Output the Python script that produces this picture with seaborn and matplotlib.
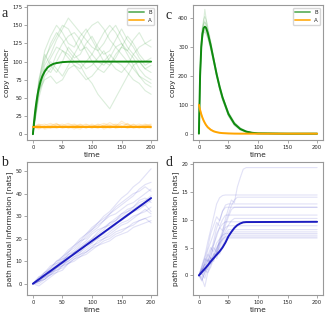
import numpy as np
import pandas as pd
import matplotlib
matplotlib.use("Agg")
import matplotlib.pyplot as plt
from matplotlib.lines import Line2D
import seaborn as sns

# ---------------- data ----------------
# panel a: copy numbers (constant input)
t_a = [0, 10, 20, 30, 40, 50, 60, 70, 80, 90, 100, 110, 120, 130, 140, 150, 160, 170, 180, 190, 200]
a_B_runs = [
    [0, 70, 105, 120, 135, 150, 145, 130, 115, 120, 110, 100, 95, 105, 120, 110, 100, 90, 80, 75, 70],
    [0, 60, 95, 110, 130, 145, 160, 150, 140, 130, 120, 115, 125, 140, 150, 135, 120, 110, 100, 90, 85],
    [0, 65, 90, 85, 100, 115, 110, 100, 95, 80, 70, 55, 45, 35, 50, 65, 80, 95, 100, 90, 95],
    [0, 55, 85, 100, 90, 80, 95, 110, 125, 140, 150, 155, 145, 130, 120, 125, 110, 95, 80, 70, 65],
    [0, 75, 110, 95, 85, 100, 120, 110, 100, 90, 95, 105, 115, 100, 90, 85, 95, 110, 120, 125, 130],
    [0, 50, 80, 90, 110, 125, 135, 140, 130, 115, 100, 90, 85, 95, 105, 120, 135, 125, 110, 100, 105],
    [0, 68, 100, 125, 140, 130, 115, 105, 110, 125, 135, 120, 110, 115, 130, 145, 130, 120, 105, 95, 100],
    [0, 60, 75, 80, 70, 75, 90, 95, 85, 75, 80, 90, 100, 110, 100, 95, 85, 75, 70, 60, 55],
    [0, 72, 115, 135, 150, 140, 125, 120, 135, 145, 130, 115, 100, 95, 110, 120, 115, 105, 90, 80, 75],
    [0, 58, 88, 105, 120, 115, 105, 95, 90, 100, 110, 125, 140, 150, 140, 125, 115, 130, 140, 125, 120],
]
a_A_runs = [
    [10, 13, 8, 12, 15, 9, 11, 7, 12, 14, 10, 8, 13, 11, 9, 15, 12, 8, 10, 13, 11],
    [10, 7, 11, 9, 13, 12, 8, 10, 14, 9, 11, 13, 7, 10, 12, 9, 14, 11, 8, 12, 9],
    [10, 12, 14, 10, 8, 11, 13, 9, 7, 12, 10, 14, 11, 16, 12, 9, 11, 13, 10, 8, 12],
    [10, 9, 12, 15, 11, 8, 10, 13, 11, 9, 14, 10, 12, 8, 11, 18, 13, 10, 12, 11, 13],
    [10, 11, 7, 9, 12, 14, 10, 12, 9, 11, 8, 12, 15, 12, 10, 11, 9, 12, 14, 10, 8],
    [10, 14, 11, 8, 10, 12, 15, 11, 10, 13, 12, 9, 10, 13, 8, 10, 15, 9, 11, 9, 10],
    [10, 8, 10, 13, 9, 10, 12, 14, 11, 8, 12, 11, 9, 12, 14, 12, 10, 14, 9, 12, 14],
    [10, 12, 9, 11, 14, 10, 9, 11, 13, 10, 9, 11, 12, 10, 13, 11, 8, 10, 12, 14, 11],
]
t_a_mean = [0, 2, 4, 6, 8, 10, 13, 16, 20, 25, 30, 35, 40, 50, 60, 80, 100, 150, 200]
a_B_mean = [0, 18, 33, 45, 55, 63, 73, 80, 86.5, 92, 95, 97, 98, 99.3, 99.8, 100, 100, 100, 100]
a_A_mean = [10] * len(t_a_mean)

# panel c: copy numbers (decaying input)
t_c = [0, 2, 4, 6, 8, 10, 12, 15, 20, 25, 30, 35, 40, 50, 60, 70, 80, 90, 100, 150, 200]
c_B_mean = [0, 200, 300, 345, 365, 370, 366, 348, 305, 255, 205, 162, 125, 68, 34, 16, 7, 3, 1, 0, 0]
c_A_mean = [100, 82, 67, 55, 45, 37, 30, 22, 13.5, 8, 5, 3, 1.8, 0.7, 0.2, 0, 0, 0, 0, 0, 0]
c_B_runs = [
    [0, 210, 320, 370, 395, 405, 395, 370, 320, 265, 210, 170, 130, 72, 38, 18, 8, 3, 1, 0, 0],
    [0, 190, 285, 330, 350, 355, 350, 335, 290, 245, 200, 155, 118, 62, 30, 14, 6, 2, 1, 0, 0],
    [0, 205, 310, 360, 385, 430, 400, 360, 315, 260, 215, 168, 128, 70, 35, 17, 8, 3, 1, 0, 0],
    [0, 195, 295, 340, 355, 360, 355, 340, 300, 250, 195, 158, 122, 66, 33, 15, 7, 3, 1, 0, 0],
    [0, 200, 305, 350, 375, 385, 380, 355, 310, 258, 208, 165, 126, 75, 40, 20, 9, 4, 1, 0, 0],
    [0, 185, 290, 335, 350, 350, 345, 330, 295, 248, 202, 160, 120, 60, 28, 12, 5, 2, 1, 0, 0],
    [0, 215, 315, 365, 380, 390, 375, 350, 298, 262, 212, 150, 115, 64, 36, 19, 9, 3, 1, 0, 0],
]
c_A_runs = [
    [100, 84, 70, 57, 48, 40, 32, 24, 15, 9, 6, 3, 2, 1, 0, 0, 0, 0, 0, 0, 0],
    [100, 80, 64, 53, 43, 35, 28, 20, 12, 7, 4, 2, 1, 0, 0, 0, 0, 0, 0, 0, 0],
    [100, 83, 66, 56, 46, 38, 31, 23, 14, 8, 5, 3, 2, 1, 0, 0, 0, 0, 0, 0, 0],
]

# panel b: path mutual information (constant input)
t_b = [0, 10, 20, 30, 40, 50, 60, 70, 80, 90, 100, 110, 120, 130, 140, 150, 160, 170, 180, 190, 200]
b_runs = [
    [0, 2, 5, 8, 9, 12, 15, 17, 20, 22, 25, 27, 30, 32, 35, 38, 40, 43, 45, 48, 51],
    [0, 1, 3, 4, 7, 8, 10, 12, 13, 15, 17, 18, 20, 21, 23, 24, 25, 26, 28, 29, 30],
    [0, 3, 4, 7, 10, 11, 14, 16, 19, 20, 23, 25, 28, 31, 33, 35, 37, 39, 42, 44, 45],
    [0, 0, 2, 4, 5, 8, 9, 11, 12, 14, 16, 19, 20, 22, 24, 26, 27, 29, 31, 32, 34],
    [0, 2, 4, 6, 8, 11, 12, 14, 17, 19, 22, 24, 25, 27, 29, 31, 33, 34, 36, 37, 39],
    [0, 1, 2, 5, 6, 8, 11, 13, 14, 17, 18, 21, 22, 25, 27, 28, 30, 32, 33, 35, 37],
    [0, 2, 5, 6, 9, 10, 13, 15, 18, 21, 24, 27, 29, 31, 34, 36, 38, 40, 41, 43, 41],
    [0, -1, 1, 3, 5, 6, 9, 10, 12, 13, 15, 17, 18, 19, 21, 22, 23, 25, 26, 27, 28],
    [0, 2, 3, 6, 8, 10, 13, 14, 16, 18, 20, 22, 24, 27, 28, 30, 32, 33, 35, 36, 38],
    [0, 1, 4, 5, 8, 9, 11, 14, 15, 17, 19, 20, 23, 24, 26, 29, 31, 32, 34, 35, 32],
    [0, 3, 5, 7, 10, 12, 14, 17, 19, 22, 24, 26, 28, 30, 31, 33, 35, 36, 38, 40, 42],
    [0, 1, 2, 4, 6, 7, 9, 11, 13, 14, 16, 17, 19, 20, 22, 23, 25, 27, 28, 29, 27],
    [0, 2, 4, 5, 7, 9, 12, 13, 16, 18, 20, 23, 25, 26, 28, 31, 32, 34, 37, 38, 36],
    [0, 1, 3, 5, 7, 9, 10, 12, 14, 16, 18, 20, 21, 23, 25, 27, 28, 30, 31, 33, 31],
]
t_b_mean = [0, 200]
b_mean = [0, 38]

# panel d: path mutual information (decaying input)
t_d = [0, 5, 10, 15, 20, 25, 30, 35, 40, 45, 50, 55, 60, 65, 70, 75, 80, 200]
d_mean = [0, 0.6, 1.2, 1.8, 2.5, 3.1, 3.7, 4.3, 5.0, 5.9, 7.0, 7.8, 8.5, 9.0, 9.3, 9.5, 9.55, 9.6]
d_runs = [
    [0, 1.0, 2.2, 3.8, 3.0, 5.5, 7.0, 8.6, 8.0, 10.2, 12.0, 13.5, 13.0, 15.8, 17.5, 19.0, 19.3, 19.3],
    [0, 1.8, 3.5, 6.0, 8.2, 10.5, 12.8, 13.9, 14.3, 14.4, 14.4, 14.4, 14.4, 14.4, 14.4, 14.4, 14.4, 14.4],
    [0, 0.5, 2.0, 1.5, 3.5, 5.0, 4.2, 6.5, 8.0, 9.5, 11.0, 12.5, 13.5, 14.0, 14.0, 14.0, 14.0, 14.0],
    [0, 1.2, 0.8, 2.5, 4.0, 6.2, 8.5, 9.8, 11.5, 12.6, 12.8, 12.8, 12.8, 12.8, 12.8, 12.8, 12.8, 12.8],
    [0, -1.0, 0.5, 2.0, 3.0, 2.5, 4.5, 6.0, 7.5, 9.0, 10.5, 11.8, 12.2, 12.2, 12.2, 12.2, 12.2, 12.2],
    [0, 0.8, 2.5, 4.5, 6.0, 7.5, 9.5, 8.8, 10.0, 10.8, 10.8, 10.8, 10.8, 10.8, 10.8, 10.8, 10.8, 10.8],
    [0, -0.5, -2.0, 0.5, 1.5, 3.0, 4.0, 5.5, 7.0, 8.0, 9.0, 9.8, 10.2, 10.2, 10.2, 10.2, 10.2, 10.2],
    [0, 1.5, 3.0, 2.5, 4.5, 5.5, 7.5, 8.5, 9.2, 9.6, 9.6, 9.6, 9.6, 9.6, 9.6, 9.6, 9.6, 9.6],
    [0, 0.2, 1.0, 3.0, 2.0, 3.5, 5.0, 6.0, 7.5, 8.6, 8.9, 8.9, 8.9, 8.9, 8.9, 8.9, 8.9, 8.9],
    [0, 0.5, 1.5, 1.0, 2.5, 4.0, 3.5, 5.5, 6.5, 7.5, 8.2, 8.2, 8.2, 8.2, 8.2, 8.2, 8.2, 8.2],
    [0, -0.8, 0.5, 1.8, 3.2, 2.8, 4.0, 5.0, 6.2, 7.0, 7.8, 7.8, 7.8, 7.8, 7.8, 7.8, 7.8, 7.8],
    [0, 1.0, 2.0, 3.5, 5.0, 4.2, 5.8, 6.5, 7.2, 7.5, 7.5, 7.5, 7.5, 7.5, 7.5, 7.5, 7.5, 7.5],
    [0, 0.3, -0.5, 1.5, 2.5, 3.8, 3.0, 4.5, 5.5, 6.5, 7.2, 7.2, 7.2, 7.2, 7.2, 7.2, 7.2, 7.2],
    [0, 0.8, 1.8, 2.8, 2.2, 3.5, 4.8, 5.8, 6.5, 6.9, 6.9, 6.9, 6.9, 6.9, 6.9, 6.9, 6.9, 6.9],
    [0, -0.3, 1.0, 0.5, 2.0, 3.0, 4.2, 3.8, 5.0, 6.0, 6.7, 6.7, 6.7, 6.7, 6.7, 6.7, 6.7, 6.7],
    [0, 1.4, 3.2, 5.0, 7.5, 9.0, 10.5, 9.8, 11.5, 12.2, 12.2, 12.2, 12.2, 12.2, 12.2, 12.2, 12.2, 12.2],
]

a_yticks = [0, 25, 50, 75, 100, 125, 150, 175]
c_yticks = [0, 100, 200, 300, 400]
b_yticks = [0, 10, 20, 30, 40, 50]
d_yticks = [0, 5, 10, 15, 20]
x_ticks = [0, 50, 100, 150, 200]

# ---------------- style ----------------
sns.set_style("ticks")
plt.rcParams.update({
    "axes.edgecolor": "0.6",
    "axes.linewidth": 0.8,
    "xtick.color": "0.6",
    "ytick.color": "0.6",
    "xtick.labelcolor": "0.15",
    "ytick.labelcolor": "0.15",
    "xtick.labelsize": 3.8,
    "ytick.labelsize": 3.8,
    "xtick.major.size": 2,
    "ytick.major.size": 2,
    "xtick.major.width": 0.6,
    "ytick.major.width": 0.6,
    "xtick.major.pad": 1.5,
    "ytick.major.pad": 1.5,
    "axes.labelsize": 5.3,
    "axes.labelpad": 1.5,
})
plt.rcParams["font.family"] = ["DejaVu Sans"]

GREEN = "#0f8a0f"
ORANGE = "#ffa500"
BLUE = "#1c1cc0"


def long_df(t, runs):
    frames = []
    for i, r in enumerate(runs):
        frames.append(pd.DataFrame({"time": t, "value": r, "run": i}))
    return pd.concat(frames, ignore_index=True)


def draw_runs(ax, t, runs, color, alpha=0.15, lw=0.8):
    sns.lineplot(data=long_df(t, runs), x="time", y="value", units="run",
                 estimator=None, color=color, alpha=alpha, lw=lw, ax=ax)


def draw_mean(ax, t, vals, color, lw=1.4):
    sns.lineplot(x=t, y=vals, color=color, lw=lw, ax=ax)


W, H = 325, 314
fig = plt.figure(figsize=(W / 100, H / 100), dpi=100)


def axes_px(l, t, r, b):
    return fig.add_axes([l / W, 1 - b / H, (r - l) / W, (b - t) / H])


ax_a = axes_px(27, 5, 157, 140)
ax_c = axes_px(193, 5, 323, 140)
ax_b = axes_px(27, 162, 157, 295)
ax_d = axes_px(193, 162, 323, 295)

# panel a
draw_runs(ax_a, t_a, a_B_runs, GREEN, 0.15)
draw_runs(ax_a, t_a, a_A_runs, ORANGE, 0.2)
draw_mean(ax_a, t_a_mean, a_B_mean, GREEN)
draw_mean(ax_a, t_a_mean, a_A_mean, ORANGE)
ax_a.set_ylim(-8, 178)
ax_a.set_yticks(a_yticks)

# panel c
draw_runs(ax_c, t_c, c_B_runs, GREEN, 0.15)
draw_runs(ax_c, t_c, c_A_runs, ORANGE, 0.2)
draw_mean(ax_c, t_c, c_B_mean, GREEN)
draw_mean(ax_c, t_c, c_A_mean, ORANGE)
ax_c.set_ylim(-22, 445)
ax_c.set_yticks(c_yticks)

# panel b
draw_runs(ax_b, t_b, b_runs, BLUE, 0.13)
draw_mean(ax_b, t_b_mean, b_mean, BLUE)
ax_b.set_ylim(-5, 54)
ax_b.set_yticks(b_yticks)

# panel d
draw_runs(ax_d, t_d, d_runs, BLUE, 0.13)
draw_mean(ax_d, t_d, d_mean, BLUE)
ax_d.set_ylim(-3.5, 20.3)
ax_d.set_yticks(d_yticks)

for ax in (ax_a, ax_c):
    ax.set_ylabel("copy number")
    handles = [Line2D([], [], color=GREEN, lw=1.4, alpha=0.6),
               Line2D([], [], color=ORANGE, lw=1.4, alpha=0.8)]
    ax.legend(handles, ["B", "A"], loc="upper right", fontsize=4,
              handlelength=2.6, borderpad=0.4, labelspacing=0.5, frameon=True)
for ax in (ax_b, ax_d):
    ax.set_ylabel("path mutual information [nats]")
for ax in (ax_a, ax_b, ax_c, ax_d):
    ax.set_xlim(-10, 210)
    ax.set_xticks(x_ticks)
    ax.set_xlabel("time")

letter_kw = dict(fontsize=10, family=["Liberation Serif", "DejaVu Serif"])
fig.text(1 / W, 1 - 17 / H, "a", **letter_kw)
fig.text(165 / W, 1 - 19 / H, "c", **letter_kw)
fig.text(1 / W, 1 - 166 / H, "b", **letter_kw)
fig.text(165 / W, 1 - 166 / H, "d", **letter_kw)

fig.savefig("out.png", dpi=100)
